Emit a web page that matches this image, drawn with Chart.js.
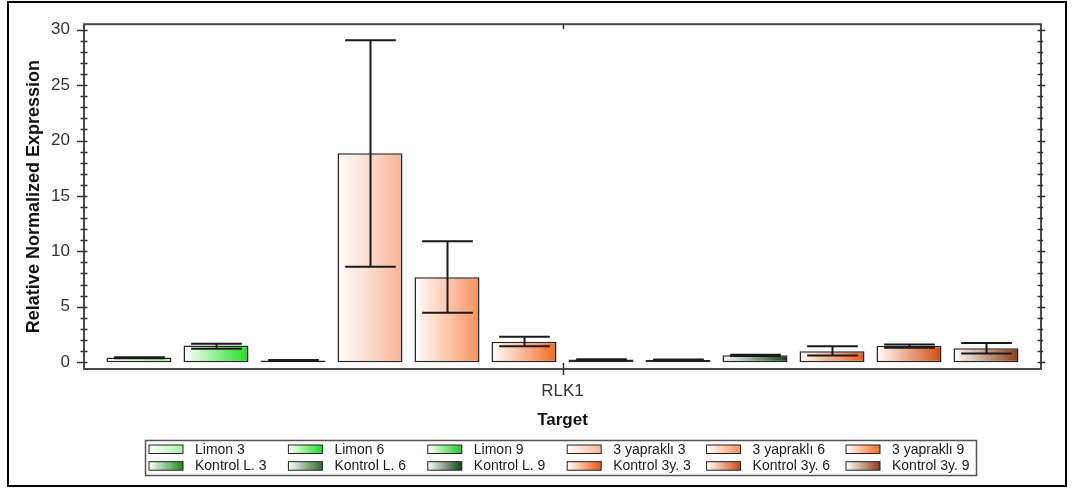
<!DOCTYPE html>
<html>
<head>
<meta charset="utf-8">
<script src="https://cdn.jsdelivr.net/npm/chart.js@4.4.1/dist/chart.umd.min.js"></script>
<style>
  html, body { margin: 0; padding: 0; background: #ffffff; }
  #wrap { width: 1077px; height: 490px; position: relative; }
</style>
</head>
<body>
<div id="wrap"><canvas id="chart" width="1077" height="490"></canvas></div>
<script>
// Target gene on the x axis
const categories = ['RLK1'];

// Sample groups, in bar / legend order
const seriesNames = [
  'Limon 3', 'Limon 6', 'Limon 9',
  '3 yapraklı 3', '3 yapraklı 6', '3 yapraklı 9',
  'Kontrol L. 3', 'Kontrol L. 6', 'Kontrol L. 9',
  'Kontrol 3y. 3', 'Kontrol 3y. 6', 'Kontrol 3y. 9'
];

// Relative normalized expression per group
const expression = [0.41, 1.49, 0.15, 18.85, 7.65, 1.85, 0.24, 0.20, 0.62, 0.99, 1.47, 1.26];

// Lower and upper ends of the error bars
const errorLow  = [0.36, 1.20, 0.10, 8.60, 4.45, 1.43, 0.16, 0.15, 0.56, 0.59, 1.29, 0.79];
const errorHigh = [0.45, 1.67, 0.20, 29.05, 10.90, 2.28, 0.27, 0.23, 0.67, 1.43, 1.58, 1.73];

// Major y tick values
const yTickValues = [0, 5, 10, 15, 20, 25, 30];

// End colour of each group's white-to-colour gradient
const seriesColors = [
  '#a6f0a6', '#22dd22', '#1fcc1f',
  '#f8b496', '#f6915c', '#f26a22',
  '#1b8c1b', '#2f6b2f', '#0f470f',
  '#ee5810', '#d24a0e', '#8e3a14'
];

const FONT = 'Arial, "Liberation Sans", sans-serif';

function hGradient(ctx, x0, x1, color) {
  const g = ctx.createLinearGradient(x0, 0, x1, 0);
  g.addColorStop(0, '#ffffff');
  g.addColorStop(1, color);
  return g;
}

// Outer frame, plot box and tick marks
const framePlugin = {
  id: 'frame',
  beforeDraw(chart) {
    const ctx = chart.ctx;
    ctx.save();
    ctx.fillStyle = '#ffffff';
    ctx.fillRect(0, 0, chart.width, chart.height);
    ctx.strokeStyle = '#000000';
    ctx.lineWidth = 2;
    ctx.strokeRect(8, 2, 1058, 484);
    ctx.restore();
  },
  afterDatasetsDraw(chart) {
    const ctx = chart.ctx;
    const a = chart.chartArea;
    const ys = chart.scales.y;
    const xs = chart.scales.x;
    ctx.save();
    ctx.strokeStyle = '#4a4a4a';
    ctx.lineWidth = 2;
    ctx.strokeRect(a.left, a.top, a.right - a.left, a.bottom - a.top);

    ctx.lineWidth = 1.5;
    ctx.strokeStyle = '#333333';
    ctx.beginPath();
    // minor ticks every unit, major ticks at the labelled values
    for (let v = 0; v <= 30; v++) {
      const y = Math.round(ys.getPixelForValue(v)) + 0.5;
      const major = yTickValues.includes(v);
      const out = major ? 7 : 3.5;
      ctx.moveTo(a.left - out, y); ctx.lineTo(a.left + 3.5, y);
      ctx.moveTo(a.right - 3.5, y); ctx.lineTo(a.right + out * 0.6, y);
    }
    // category tick on bottom and top axes
    categories.forEach((c, i) => {
      const x = Math.round(xs.getPixelForValue(i)) + 0.5;
      ctx.moveTo(x, a.bottom - 6); ctx.lineTo(x, a.bottom + 6);
      ctx.moveTo(x, a.top); ctx.lineTo(x, a.top + 5);
    });
    ctx.stroke();
    ctx.restore();
  }
};

// Horizontal gradient fill for each bar
const gradientPlugin = {
  id: 'barGradient',
  beforeDatasetsDraw(chart) {
    const ctx = chart.ctx;
    chart.data.datasets.forEach((ds, i) => {
      const meta = chart.getDatasetMeta(i);
      meta.data.forEach(el => {
        const half = el.width / 2;
        el.options.backgroundColor = hGradient(ctx, el.x - half, el.x + half, seriesColors[i]);
      });
    });
  }
};

// Error bars with caps
const errorBarPlugin = {
  id: 'errorBars',
  afterDatasetsDraw(chart) {
    const ctx = chart.ctx;
    const ys = chart.scales.y;
    ctx.save();
    ctx.strokeStyle = '#1a1a1a';
    ctx.lineWidth = 2;
    chart.data.datasets.forEach((ds, i) => {
      const el = chart.getDatasetMeta(i).data[0];
      if (!el) return;
      const x = Math.round(el.x) + 0.5;
      const cap = el.width * 0.39;
      const yHi = ys.getPixelForValue(errorHigh[i]);
      const yLo = ys.getPixelForValue(errorLow[i]);
      ctx.beginPath();
      ctx.moveTo(x, yHi); ctx.lineTo(x, yLo);
      ctx.moveTo(x - cap, yHi); ctx.lineTo(x + cap, yHi);
      ctx.moveTo(x - cap, yLo); ctx.lineTo(x + cap, yLo);
      ctx.stroke();
    });
    ctx.restore();
  }
};

// Boxed legend, six columns by two rows
const legendPlugin = {
  id: 'gridLegend',
  afterDraw(chart) {
    const ctx = chart.ctx;
    const boxL = 145, boxT = 440, boxW = 831, boxH = 35;
    ctx.save();
    ctx.strokeStyle = '#555555';
    ctx.lineWidth = 1.5;
    ctx.strokeRect(boxL + 0.5, boxT + 0.5, boxW, boxH);
    ctx.font = '14px ' + FONT;
    ctx.textBaseline = 'middle';
    ctx.textAlign = 'left';
    chart.data.datasets.forEach((ds, i) => {
      const col = i % 6, row = Math.floor(i / 6);
      const sx = 149 + col * 139.4;
      const sy = 445 + row * 16.7;
      const sw = 34, sh = 8.5;
      ctx.fillStyle = hGradient(ctx, sx, sx + sw, seriesColors[i]);
      ctx.fillRect(sx, sy, sw, sh);
      ctx.strokeStyle = '#222222';
      ctx.lineWidth = 1;
      ctx.strokeRect(sx, sy, sw, sh);
      ctx.fillStyle = '#1a1a1a';
      ctx.fillText(ds.label, sx + 46, sy + sh / 2 + 0.5);
    });
    ctx.restore();
  }
};

const datasets = seriesNames.map((name, i) => ({
  label: name,
  data: [expression[i]],
  backgroundColor: (c) => seriesColors[c.datasetIndex],
  borderColor: '#262626',
  borderWidth: 1.5,
  borderSkipped: false,
  categoryPercentage: 0.9655,
  barPercentage: 0.844
}));

new Chart(document.getElementById('chart'), {
  type: 'bar',
  data: { labels: categories, datasets },
  options: {
    responsive: false,
    animation: false,
    devicePixelRatio: 1,
    layout: { padding: { left: 10, top: 15, right: 36, bottom: 57 } },
    plugins: {
      legend: { display: false },
      tooltip: { enabled: false }
    },
    scales: {
      x: {
        offset: true,
        afterFit: (s) => { s.height = 64; },
        grid: { display: false, drawTicks: false },
        border: { display: false },
        ticks: { padding: 12, color: '#333333', font: { family: FONT, size: 17 } },
        title: {
          display: true, text: 'Target', color: '#111111',
          font: { family: FONT, size: 17, weight: 'bold' },
          padding: { top: 0, bottom: 2 }
        }
      },
      y: {
        min: -0.62,
        max: 30.5,
        afterBuildTicks: (s) => { s.ticks = yTickValues.map(v => ({ value: v })); },
        afterFit: (s) => { s.width = 74; },
        grid: { display: false, drawTicks: false },
        border: { display: false },
        ticks: { padding: 14, color: '#333333', font: { family: FONT, size: 17 } },
        title: {
          display: true, text: 'Relative Normalized Expression', color: '#111111',
          font: { family: FONT, size: 18, weight: 'bold' },
          padding: { top: 13, bottom: 0 }
        }
      }
    }
  },
  plugins: [framePlugin, gradientPlugin, errorBarPlugin, legendPlugin]
});
</script>
</body>
</html>
